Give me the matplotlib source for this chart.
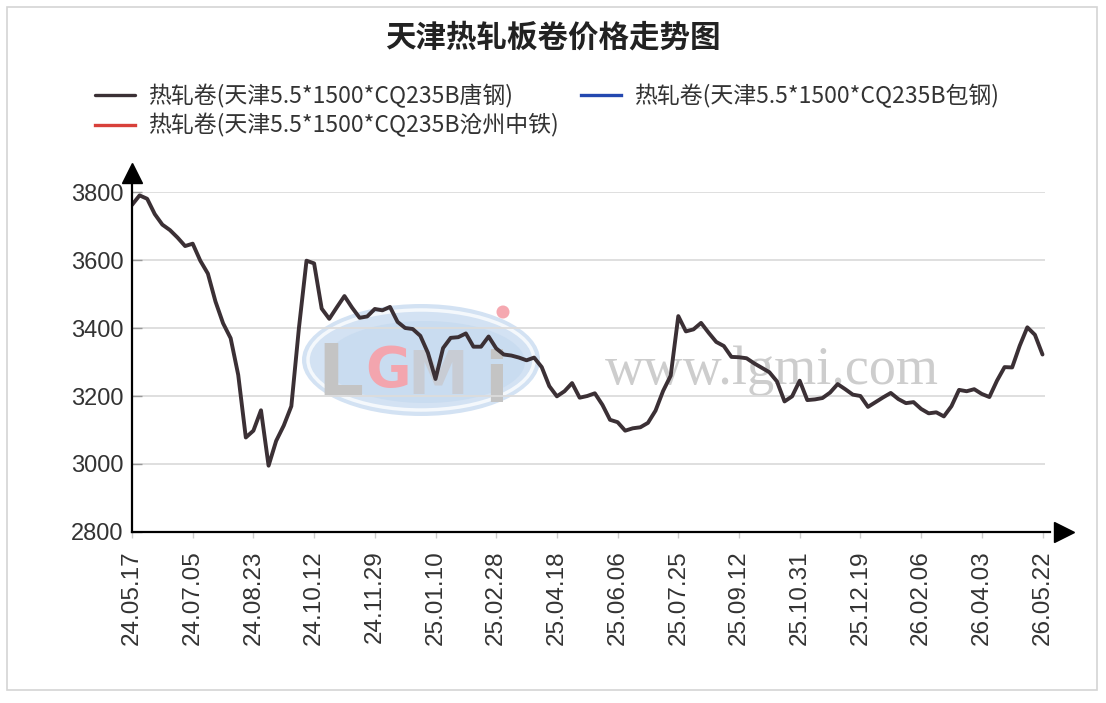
import matplotlib
matplotlib.use("Agg")
import matplotlib.pyplot as plt
from matplotlib.patches import Ellipse, Rectangle, Circle

plt.rcParams['font.family'] = ['Noto Sans CJK SC', 'DejaVu Sans']

title = "天津热轧板卷价格走势图"
series_names = ["热轧卷(天津5.5*1500*CQ235B唐钢)",
                "热轧卷(天津5.5*1500*CQ235B包钢)",
                "热轧卷(天津5.5*1500*CQ235B沧州中铁)"]
series_colors = ["#3b3035", "#2448b0", "#d8403a"]

tick_labels = ["24.05.17", "24.07.05", "24.08.23", "24.10.12", "24.11.29",
               "25.01.10", "25.02.28", "25.04.18", "25.06.06", "25.07.25",
               "25.09.12", "25.10.31", "25.12.19", "26.02.06", "26.04.03",
               "26.05.22"]
points_per_tick = 8

tangshan = [3762, 3790, 3780, 3735, 3704, 3688, 3666, 3641,
            3648, 3598, 3560, 3478, 3414, 3370, 3262, 3078,
            3098, 3158, 2995, 3068, 3113, 3170, 3400, 3598,
            3590, 3457, 3427, 3461, 3494, 3460, 3430, 3434,
            3456, 3452, 3462, 3418, 3400, 3397, 3377, 3327,
            3250, 3341, 3371, 3373, 3384, 3345, 3345, 3375,
            3340, 3322, 3319, 3313, 3305, 3313, 3285, 3229,
            3199, 3214, 3238, 3195, 3200, 3208, 3174, 3130,
            3123, 3098, 3105, 3108, 3121, 3157, 3215, 3260,
            3435, 3390, 3396, 3415, 3386, 3359, 3347, 3315,
            3314, 3311, 3296, 3283, 3270, 3243, 3184, 3199,
            3245, 3188, 3190, 3194, 3210, 3235, 3220, 3204,
            3200, 3168, 3182, 3196, 3209, 3191, 3179, 3182,
            3162, 3149, 3152, 3140, 3170, 3218, 3214, 3220,
            3206, 3197, 3245, 3285, 3284, 3348, 3402, 3380,
            3322]
baogang = []
cangzhou = []

yticks = [2800, 3000, 3200, 3400, 3600, 3800]

W, H = 1106, 703
fig = plt.figure(figsize=(W / 100, H / 100), dpi=100)
fig.patch.set_facecolor("white")

# background / decoration layer in pixel coordinates
bg = fig.add_axes([0, 0, 1, 1], zorder=0)
bg.set_xlim(0, W)
bg.set_ylim(H, 0)
bg.axis("off")
bg.add_patch(Rectangle((7, 7), 1090, 683, fill=False, edgecolor="#d4d4d4", lw=1.2))
# watermark logo
bg.add_patch(Ellipse((421, 360), 238, 112, facecolor="#d3e2f3", edgecolor="none"))
bg.add_patch(Ellipse((421, 360), 226, 100, facecolor="none", edgecolor="#f4f8fc", lw=2.5))
bg.add_patch(Ellipse((425, 362), 200, 82, facecolor="#c9dcf0", edgecolor="none"))
bg.text(340, 395, "L", fontsize=52, fontweight="bold", color="#c4c4c4",
        family="DejaVu Sans", ha="center", va="baseline")
bg.text(388, 386, "G", fontsize=40, fontweight="bold", color="#f3a5ae",
        family="DejaVu Sans", ha="center", va="baseline")
bg.text(438, 394, "M", fontsize=44, fontweight="bold", color="#c8ccd4",
        family="DejaVu Sans", ha="center", va="baseline")
bg.text(496, 402, "i", fontsize=50, fontweight="bold", color="#c4c4c4",
        family="DejaVu Sans", ha="center", va="baseline")
bg.add_patch(Circle((503, 312), 6.5, facecolor="#f5a8b0", edgecolor="none"))
bg.text(772, 384, "www.lgmi.com", fontsize=39, color="#cdcdcd",
        family="Liberation Serif", ha="center", va="baseline")

# main axes
x0, x1 = 132, 1045
y0, y1 = 532, 192
ax = fig.add_axes([x0 / W, 1 - y0 / H, (x1 - x0) / W, (y0 - y1) / H], zorder=1)
ax.patch.set_alpha(0)

n = len(tangshan)
xs = list(range(n))
h1, = ax.plot(xs, tangshan, color=series_colors[0], lw=2.8,
              solid_joinstyle="round", solid_capstyle="round", label=series_names[0], zorder=3)
l2, = ax.plot(baogang, baogang, color=series_colors[1], lw=2.2, label=series_names[1])
l3, = ax.plot(cangzhou, cangzhou, color=series_colors[2], lw=2.2, label=series_names[2])

step_px = (1042.5 - 132) / (n - 1)
ax.set_xlim(0, (x1 - x0) / step_px)
ax.set_ylim(2800, 3800)

ax.set_yticks(yticks)
ax.set_yticklabels([str(v) for v in yticks], family="Liberation Sans", fontsize=17, color="#333333")
ax.set_xticks(list(range(0, n, points_per_tick)))
ax.set_xticklabels(tick_labels, rotation=90, family="Liberation Sans", fontsize=17.5, color="#333333")
ax.tick_params(axis="y", direction="in", length=7, width=1, color="#999999", pad=6)
ax.tick_params(axis="x", direction="out", length=4, width=1, color="#cccccc", pad=9)

for v in yticks[1:]:
    ax.axhline(v, color="#dcdcdc", lw=1.3, zorder=1)

for s in ["top", "right", "left", "bottom"]:
    ax.spines[s].set_visible(False)
# axis lines with arrows
ax.plot([0, 0], [0, 1.03], transform=ax.transAxes, color="black", lw=1.6, clip_on=False, zorder=4)
ax.plot([0, 1.005], [0, 0], transform=ax.transAxes, color="black", lw=1.6, clip_on=False, zorder=4)
ax.plot([0], [1.055], transform=ax.transAxes, marker="^", markersize=15, color="black",
        clip_on=False, zorder=5)
ax.plot([1.0205], [0], transform=ax.transAxes, marker=">", markersize=15, color="black",
        clip_on=False, zorder=5)

leg = ax.legend([h1, l3, l2], [series_names[0], series_names[2], series_names[1]],
                ncol=2, loc="upper left", bbox_to_anchor=(95 / W, 1 - 84 / H),
                bbox_transform=fig.transFigure, frameon=False, fontsize=16.5,
                handlelength=1.75, handletextpad=0.55, columnspacing=1.0,
                labelspacing=0.22, borderpad=0, borderaxespad=0)
for t in leg.get_texts():
    t.set_color("#333333")
for lh in leg.get_lines():
    lh.set_linewidth(2.4)

fig.text(553 / W, 1 - 38 / H, title, ha="center", va="center", fontsize=22,
         fontweight="bold", color="#222222")

fig.savefig("out.png", dpi=100, facecolor="white")
